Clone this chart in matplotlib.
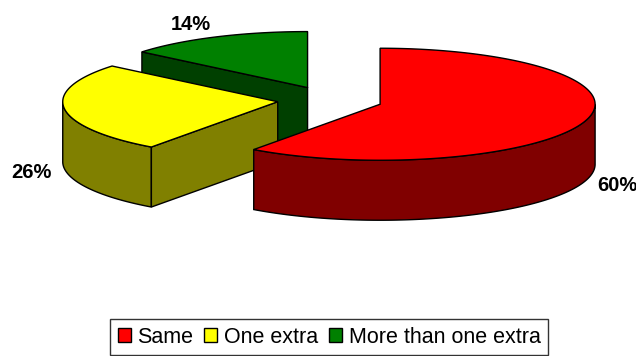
import numpy as np
import matplotlib
matplotlib.use("Agg")
import matplotlib.pyplot as plt
from matplotlib.patches import Polygon, Patch

plt.rcParams["font.family"] = ["Liberation Sans", "DejaVu Sans"]

# ---- data -----------------------------------------------------------------
labels = ["Same", "One extra", "More than one extra"]
shares = [60, 26, 14]
top_colors = ["#FF0000", "#FFFF00", "#008000"]
side_colors = ["#800000", "#808000", "#004000"]

# ---- 3D pie geometry (pixel space) ----------------------------------------
W, H = 636, 356
CX, CY = 330, 100        # pie centre
RX, RY = 215, 56         # ellipse radii of the top face
DEPTH = 60               # thickness
EXPLODE = 0.245          # fraction of radius each slice is pulled out
LW = 1.0

fig = plt.figure(figsize=(W / 100, H / 100), dpi=100)
ax = fig.add_axes([0, 0, 1, 1])
ax.set_xlim(0, W)
ax.set_ylim(H, 0)
ax.axis("off")

def pt(cx, cy, th, dz=0.0):
    return (cx + RX * np.cos(th), cy - RY * np.sin(th) + dz)

total = float(sum(shares))
cum = np.cumsum([0] + shares) / total
slices = []
for i, v in enumerate(shares):
    a2 = np.deg2rad(90 - cum[i] * 360)       # clockwise from 12 o'clock
    a1 = np.deg2rad(90 - cum[i + 1] * 360)
    mid = (a1 + a2) / 2
    cx = CX + RX * EXPLODE * np.cos(mid)
    cy = CY - RY * EXPLODE * np.sin(mid)
    slices.append((i, a1, a2, mid, cx, cy))

# back slices first
for i, a1, a2, mid, cx, cy in sorted(slices, key=lambda s: s[5]):
    th = np.linspace(a1, a2, 300)
    # curved outer wall on the front half
    front = np.sin(th) <= 0
    runs, cur = [], []
    for t, f in zip(th, front):
        if f:
            cur.append(t)
        elif cur:
            runs.append(cur); cur = []
    if cur:
        runs.append(cur)
    for r in runs:
        r = np.array(r)
        top = [pt(cx, cy, t) for t in r]
        bot = [pt(cx, cy, t, DEPTH) for t in r[::-1]]
        ax.add_patch(Polygon(top + bot, closed=True, facecolor=side_colors[i],
                             edgecolor="black", linewidth=LW, zorder=2))
    # radial cut faces
    for ang, vis in ((a1, np.cos(a1) > 1e-6), (a2, np.cos(a2) < -1e-6)):
        if vis:
            poly = [(cx, cy), pt(cx, cy, ang), pt(cx, cy, ang, DEPTH), (cx, cy + DEPTH)]
            ax.add_patch(Polygon(poly, closed=True, facecolor=side_colors[i],
                                 edgecolor="black", linewidth=LW, zorder=2))
    # top face
    poly = [(cx, cy)] + [pt(cx, cy, t) for t in th]
    ax.add_patch(Polygon(poly, closed=True, facecolor=top_colors[i],
                         edgecolor="black", linewidth=LW, zorder=2))

    # percentage label
    k = 1.06
    lx = cx + RX * k * np.cos(mid)
    ly = cy - RY * k * np.sin(mid) + (DEPTH + 3 if np.sin(mid) < 0 else 0)
    ha = "left" if np.cos(mid) > 0 else "right"
    va = "center" if abs(np.sin(mid)) < 0.5 else ("bottom" if np.sin(mid) > 0 else "top")
    ax.text(lx, ly, f"{shares[i]:.0f}%", ha=ha, va=va, fontsize=14.5,
            fontweight="bold", zorder=3, clip_on=False)

handles = [Patch(facecolor=c, edgecolor="black", linewidth=LW) for c in top_colors]
leg = fig.legend(handles, labels, loc="upper center", bbox_to_anchor=(329 / W, 1 - 319 / H),
                 ncol=3, fontsize=15.5, frameon=True, fancybox=False,
                 handlelength=0.62, handleheight=0.62, handletextpad=0.3,
                 columnspacing=0.5, borderpad=0.35, borderaxespad=0)
leg.get_frame().set_edgecolor("black")
leg.get_frame().set_linewidth(1.0)

fig.savefig("out.png", dpi=100, facecolor="white")
